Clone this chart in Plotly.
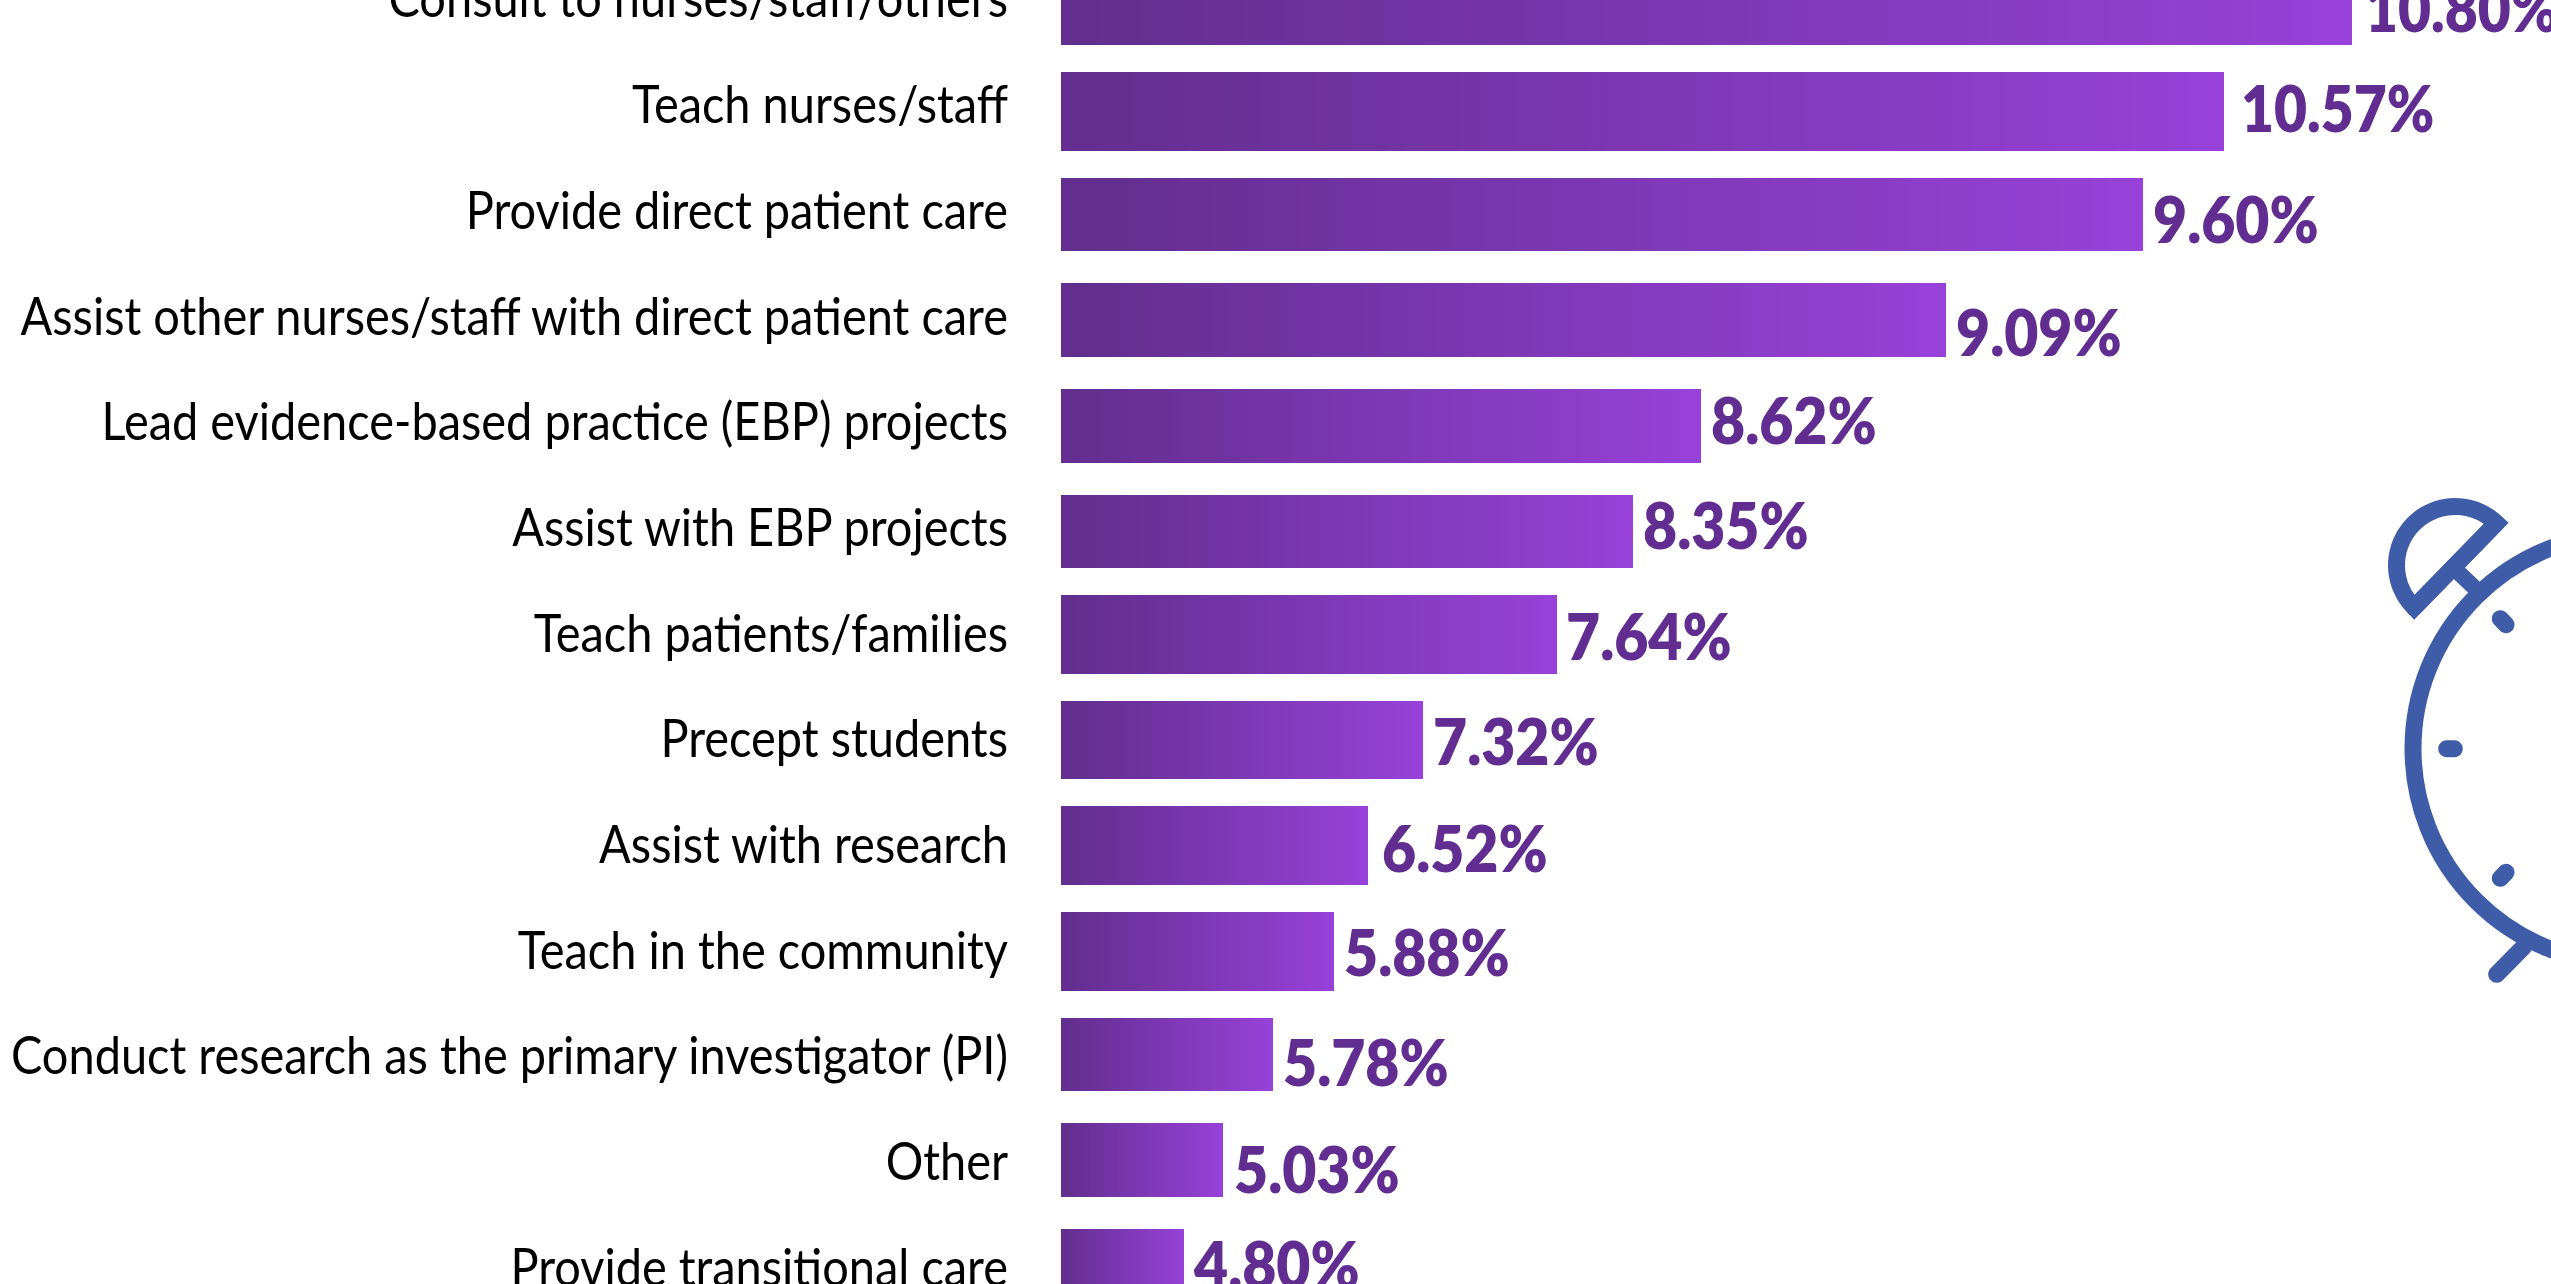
import math
import plotly.graph_objects as go

# ---------- data ----------
categories = [
    "Consult to nurses/staff/others",
    "Teach nurses/staff",
    "Provide direct patient care",
    "Assist other nurses/staff with direct patient care",
    "Lead evidence-based practice (EBP) projects",
    "Assist with EBP projects",
    "Teach patients/families",
    "Precept students",
    "Assist with research",
    "Teach in the community",
    "Conduct research as the primary investigator (PI)",
    "Other",
    "Provide transitional care",
]
value_labels = ["10.80%", "10.57%", "9.60%", "9.09%", "8.62%", "8.35%", "7.64%",
                "7.32%", "6.52%", "5.88%", "5.78%", "5.03%", "4.80%"]
bar_lengths = [1291, 1163, 1082, 885, 640, 572, 496, 362, 307, 273, 212, 162, 123]

# ---------- styling ----------
W, H = 2551, 1284
LEFT = 1061
STEP = 105.7
FIRST = 7.25
TICK_SHIFT = 8
N_STEPS = 64
START, END = (99, 46, 143), (151, 65, 216)
BLUE = "#3F5CA9"
PURPLE = "#622D90"
bar_top = [-31, 72, 178, 283, 389, 495, 595, 701, 806, 912, 1018, 1123, 1229]
bar_bottom = [45, 151, 251, 357, 463, 568, 674, 779, 885, 991, 1091, 1197, 1307]
label_gap = [11, 15, 8, 8, 8, 8, 7, 8, 12, 8, 8, 9, 7]
label_center = [7, 107, 218, 331, 419, 524, 635, 740, 847, 952, 1061, 1168, 1263]

thickness = [(b - t) / STEP for t, b in zip(bar_top, bar_bottom)]
offsets = [(t - (FIRST + i * STEP)) / STEP for i, t in enumerate(bar_top)]

fig = go.Figure()
for s in range(N_STEPS):
    t = s / (N_STEPS - 1)
    col = tuple(round(a + (b - a) * t) for a, b in zip(START, END))
    fig.add_trace(go.Bar(
        y=categories,
        x=[v / N_STEPS for v in bar_lengths],
        width=thickness,
        offset=offsets,
        orientation="h",
        marker=dict(color=f"rgb{col}", line=dict(width=0)),
        hoverinfo="skip",
        showlegend=False,
    ))

annotations = [
    dict(x=v, y=c, xref="x", yref="y", text=t, showarrow=False, xanchor="left",
         yanchor="middle", xshift=g, yshift=(FIRST + i * STEP) - m,
         font=dict(family="Lato", size=64, color=PURPLE, weight=800))
    for i, (v, c, t, g, m) in enumerate(zip(bar_lengths, categories, value_labels, label_gap, label_center))
]

# ---------- alarm-clock decoration (pixel geometry) ----------
def px(x):
    return (x - LEFT) / (W - LEFT)

def py(y):
    return 1 - y / H

def path(points, close=False):
    d = "M" + " L".join(f"{px(x):.5f},{py(y):.5f}" for x, y in points)
    return d + (" Z" if close else "")

def capsule(x0, y0, x1, y1, w=17):
    a = math.atan2(y1 - y0, x1 - x0)
    r = w / 2
    pts = []
    for i in range(13):
        b = a + math.pi / 2 + math.pi * i / 12
        pts.append((x0 + r * math.cos(b), y0 + r * math.sin(b)))
    for i in range(13):
        b = a - math.pi / 2 + math.pi * i / 12
        pts.append((x1 + r * math.cos(b), y1 + r * math.sin(b)))
    return dict(type="path", xref="paper", yref="paper", path=path(pts, True),
                fillcolor=BLUE, line=dict(width=0), layer="above")

shapes = []
cx, cy, R = 2628, 748.7, 215
shapes.append(dict(type="circle", xref="paper", yref="paper",
                   x0=px(cx - R), x1=px(cx + R), y0=py(cy + R), y1=py(cy - R),
                   line=dict(color=BLUE, width=17), layer="above"))
shapes.append(capsule(2446.7, 748.7, 2454.3, 748.7))
shapes.append(capsule(2500.3, 618.7, 2506, 624.7))
shapes.append(capsule(2506, 872.3, 2500.3, 878.3))
shapes.append(capsule(2459.3, 573.3, 2474, 587.3, 16))
shapes.append(capsule(2496.7, 974.3, 2523.3, 947.3))
# bell: half disc outline
bx, by, br = 2455.3, 565.3, 58.8
a0 = math.atan2(383 / 3 + 480 - by, 222 / 3 + 2340 - bx)
arc = [(bx + br * math.cos(a0 + math.pi * i / 40), by + br * math.sin(a0 + math.pi * i / 40))
       for i in range(41)]
shapes.append(dict(type="path", xref="paper", yref="paper", path=path(arc, True),
                   line=dict(color=BLUE, width=17), layer="above"))
shapes.append(capsule(*arc[0], *arc[-1]))

fig.update_layout(
    width=W, height=H,
    margin=dict(l=LEFT, r=0, t=0, b=0, pad=0),
    paper_bgcolor="white", plot_bgcolor="white",
    barmode="stack",
    showlegend=False,
    annotations=annotations,
    shapes=shapes,
    xaxis=dict(range=[0, W - LEFT], visible=False, fixedrange=True),
    yaxis=dict(
        type="category", categoryorder="array", categoryarray=categories,
        range=[(H - FIRST) / STEP, -FIRST / STEP],
        showgrid=False, zeroline=False, showline=False, ticks="",
        ticklabelstandoff=52, ticklabelshift=TICK_SHIFT, automargin=False, fixedrange=True,
        tickfont=dict(family="Lato", size=52, color="black"),
    ),
)

# The reference's type is a condensed face: narrow the real text to its measured widths.
condense = """
document.body.style.margin='0';
document.documentElement.style.overflow='hidden';
document.fonts.ready.then(function(){
  var ticks = Array.from(document.querySelectorAll('.ytick text'));
  var longest = Math.max.apply(null, ticks.map(function(t){return t.getComputedTextLength();}));
  var k = 997 / longest;
  ticks.forEach(function(t){
    t.setAttribute('lengthAdjust','spacingAndGlyphs');
    t.setAttribute('textLength', t.getComputedTextLength()*k);
  });
  document.querySelectorAll('.annotation-text').forEach(function(t){
    var L = t.getComputedTextLength(), v = t.textContent.length > 5 ? 0.89 : 0.92;
    t.setAttribute('lengthAdjust','spacingAndGlyphs');
    t.setAttribute('textLength', L*v);
    t.setAttribute('x', parseFloat(t.getAttribute('x')||0) - L*(1-v)/2);
  });
});
"""
fig.write_html("out.html", config=dict(displayModeBar=False), post_script=condense)
